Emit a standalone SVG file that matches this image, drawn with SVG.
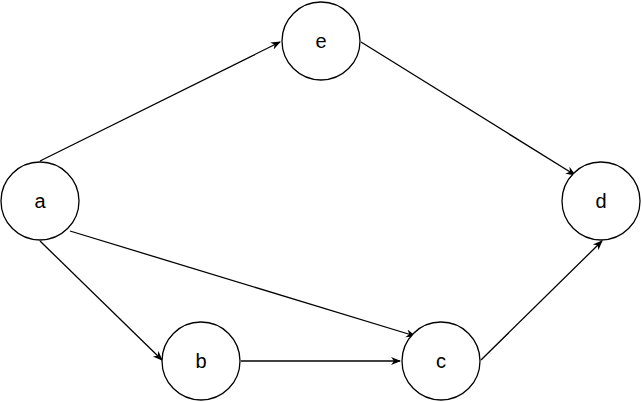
<svg xmlns="http://www.w3.org/2000/svg" width="642" height="402" viewBox="0 0 642 402">
<style>
circle{fill:#fff;stroke:#000;stroke-width:1.3}
text{font-family:"Liberation Sans",Arial,sans-serif;font-size:20px;text-anchor:middle;dominant-baseline:central}
.e{stroke:#000;stroke-width:1.3;fill:none;marker-end:url(#ah)}
</style>
<defs>
<marker id="ah" viewBox="0 0 10 10" refX="9" refY="5" markerWidth="10" markerHeight="10" markerUnits="userSpaceOnUse" orient="auto">
<path d="M0,1 L10,5 L0,9 L3,5 Z" fill="#000"/>
</marker>
</defs>
<g id="edges">
<path class="e" d="M40,161 L280,42"/>
<path class="e" d="M361,42 L575,175"/>
<path class="e" d="M70,231 L415,336"/>
<path class="e" d="M40,241 L162,360"/>
<path class="e" d="M241,361 L400,361"/>
<path class="e" d="M481,360 L602,241"/>
</g>
<g id="a"><circle cx="40" cy="201" r="39"/><text x="40" y="201">a</text></g>
<g id="e"><circle cx="321" cy="41" r="39"/><text x="321" y="41">e</text></g>
<g id="d"><circle cx="601" cy="201" r="39"/><text x="601" y="201">d</text></g>
<g id="b"><circle cx="201" cy="361" r="39"/><text x="201" y="361">b</text></g>
<g id="c"><circle cx="441" cy="361" r="39"/><text x="441" y="361">c</text></g>
</svg>
